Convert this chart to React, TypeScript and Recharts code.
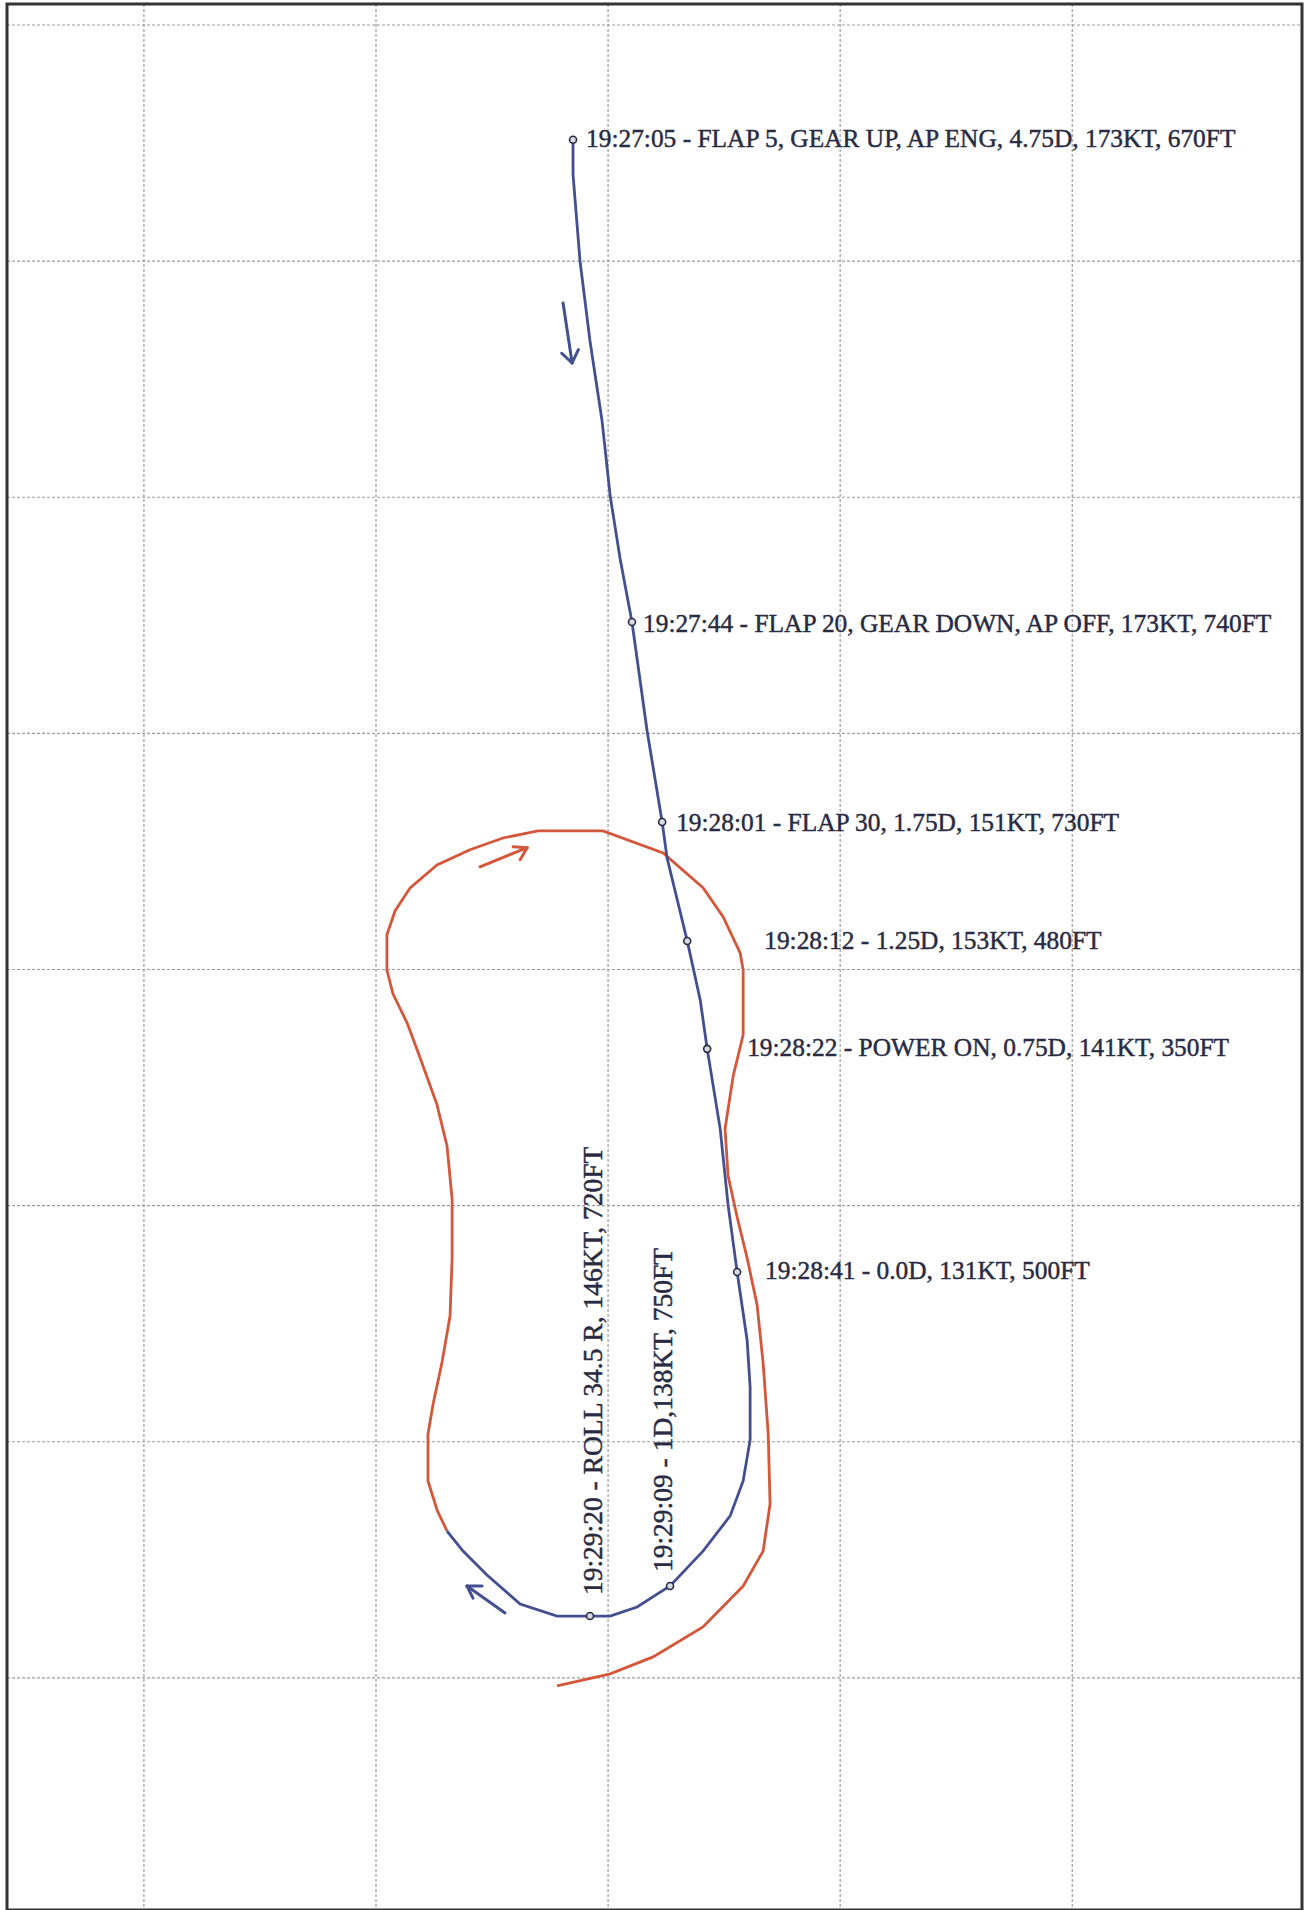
import {
  ComposedChart,
  Line,
  Scatter,
  XAxis,
  YAxis,
  CartesianGrid,
  ReferenceLine,
  ReferenceArea,
} from 'recharts';

// track positions in grid units (x east, y north)
const blueTrack: [number, number][] = [
  [1.849, 7.514], [1.849, 7.366], [1.879, 7.001], [1.922, 6.662], [1.974, 6.324],
  [2.009, 6.006], [2.052, 5.739], [2.103, 5.472], [2.168, 5.011], [2.233, 4.625],
  [2.254, 4.473], [2.341, 4.121], [2.397, 3.871], [2.427, 3.664], [2.483, 3.325],
  [2.517, 3.003], [2.556, 2.719], [2.599, 2.431], [2.612, 2.232], [2.612, 2.008],
  [2.582, 1.834], [2.526, 1.686], [2.409, 1.537], [2.267, 1.389], [2.125, 1.3],
  [2.009, 1.262], [1.922, 1.262], [1.78, 1.262], [1.621, 1.313], [1.478, 1.436],
  [1.375, 1.537], [1.306, 1.622],
];

const redTrack: [number, number][] = [
  [1.306, 1.622], [1.263, 1.711], [1.224, 1.834], [1.224, 2.033], [1.246, 2.16],
  [1.284, 2.334], [1.319, 2.533], [1.328, 2.779], [1.328, 3.028], [1.306, 3.253],
  [1.263, 3.427], [1.19, 3.626], [1.134, 3.774], [1.073, 3.897], [1.047, 3.998],
  [1.047, 4.147], [1.082, 4.248], [1.147, 4.346], [1.263, 4.443], [1.405, 4.507],
  [1.547, 4.557], [1.698, 4.587], [1.978, 4.587], [2.237, 4.494], [2.409, 4.346],
  [2.496, 4.223], [2.569, 4.07], [2.582, 3.998], [2.582, 3.723], [2.539, 3.549],
  [2.504, 3.325], [2.517, 3.126], [2.556, 2.952], [2.599, 2.779], [2.642, 2.579],
  [2.668, 2.334], [2.69, 2.033], [2.698, 1.737], [2.668, 1.537], [2.582, 1.389],
  [2.409, 1.216], [2.194, 1.089], [2.009, 1.017], [1.78, 0.966],
];

// event markers: index into blueTrack + annotation
const markerLabels = [
  { at: 0, text: '19:27:05 - FLAP 5, GEAR UP, AP ENG, 4.75D, 173KT, 670FT' },
  { at: 7, text: '19:27:44 - FLAP 20, GEAR DOWN, AP OFF, 173KT, 740FT' },
  { at: 9, text: '19:28:01 - FLAP 30, 1.75D, 151KT, 730FT' },
  { at: 11, text: '19:28:12 - 1.25D, 153KT, 480FT' },
  { at: 13, text: '19:28:22 - POWER ON, 0.75D, 141KT, 350FT' },
  { at: 16, text: '19:28:41 - 0.0D, 131KT, 500FT' },
  { at: 23, text: '19:29:09 - 1D,138KT, 750FT' },
  { at: 26, text: '19:29:20 - ROLL 34.5 R, 146KT, 720FT' },
];

// direction arrows: [tail, tip, wing1, wing2]
const blueArrows: [number, number][][] = [
  [[1.806, 6.823], [1.845, 6.569], [1.8, 6.61], [1.872, 6.625]],
  [[1.556, 1.275], [1.392, 1.389], [1.457, 1.389], [1.418, 1.338]],
];
const redArrows: [number, number][][] = [
  [[1.448, 4.435], [1.651, 4.516], [1.591, 4.52], [1.621, 4.465]],
];

const xTicks = [0, 1, 2, 3, 4];
const yTicks = [1, 2, 3, 4, 5, 6, 7, 8];

const X_DOMAIN: [number, number] = [-0.59, 4.99];
const Y_DOMAIN: [number, number] = [0.017, 8.089];

const BLUE = '#434f8e';
const RED = '#d4573b';
const INK = '#282b42';

// label placement relative to marker (px)
const labelLayout: Record<number, { dx: number; dy: number; vertical?: boolean }> = {
  0: { dx: 13, dy: -2 },
  7: { dx: 11, dy: 1 },
  9: { dx: 14, dy: 0 },
  11: { dx: 77, dy: -1 },
  13: { dx: 40, dy: -2 },
  16: { dx: 28, dy: -2 },
  23: { dx: -8, dy: -14, vertical: true },
  26: { dx: 3, dy: -21, vertical: true },
};

const blueData = blueTrack.map(([x, y]) => ({ x, y }));
const redData = redTrack.map(([x, y]) => ({ x, y }));
const markerData = markerLabels.map((m) => ({
  x: blueTrack[m.at][0],
  y: blueTrack[m.at][1],
  at: m.at,
  text: m.text,
}));

function MarkerShape(props: any) {
  const { cx, cy, payload } = props;
  if (cx == null || cy == null) return <g />;
  const lay = labelLayout[payload.at] || { dx: 12, dy: 0 };
  const tx = cx + lay.dx;
  const ty = cy + lay.dy;
  return (
    <g>
      <circle cx={cx} cy={cy} r={3.5} fill="#d8d9e2" stroke={INK} strokeWidth={1.6} />
      <text
        x={tx}
        y={ty}
        dominantBaseline="central"
        fontFamily="'Liberation Serif', 'Times New Roman', serif"
        fontSize={lay.vertical ? 27.5 : 25.4}
        fill={INK}
        stroke={INK}
        strokeWidth={0.45}
        transform={lay.vertical ? `rotate(-90 ${tx} ${ty})` : undefined}
      >
        {payload.text}
      </text>
    </g>
  );
}

function arrowLines(arrows: [number, number][][], color: string, prefix: string) {
  const out: any[] = [];
  arrows.forEach((a, i) => {
    const [tail, tip, w1, w2] = a;
    [[tail, tip], [w1, tip], [w2, tip]].forEach((seg, j) => {
      out.push(
        <ReferenceLine
          key={`${prefix}-${i}-${j}`}
          segment={[
            { x: seg[0][0], y: seg[0][1] },
            { x: seg[1][0], y: seg[1][1] },
          ]}
          stroke={color}
          strokeWidth={3}
          strokeLinecap="round"
          ifOverflow="visible"
        />
      );
    });
  });
  return out;
}

export default function App() {
  return (
    <div style={{ position: 'absolute', left: 0, top: 0, width: 1307, height: 1910, background: '#fff' }}>
      <ComposedChart
        width={1307}
        height={1910}
        margin={{ top: 4, right: 5, bottom: 0, left: 7 }}
      >
        <CartesianGrid stroke="#9c9c9c" strokeDasharray="3 2" strokeWidth={1.2} />
        <XAxis
          type="number"
          dataKey="x"
          domain={X_DOMAIN}
          ticks={xTicks}
          allowDataOverflow
          hide
        />
        <YAxis
          type="number"
          dataKey="y"
          domain={Y_DOMAIN}
          ticks={yTicks}
          allowDataOverflow
          hide
        />
        <ReferenceArea
          x1={X_DOMAIN[0]}
          x2={X_DOMAIN[1]}
          y1={Y_DOMAIN[0]}
          y2={Y_DOMAIN[1]}
          fill="none"
          stroke="#333"
          strokeWidth={3}
          ifOverflow="visible"
        />
        <Line
          data={redData}
          dataKey="y"
          type="linear"
          stroke={RED}
          strokeWidth={2.8}
          dot={false}
          activeDot={false}
          isAnimationActive={false}
        />
        <Line
          data={blueData}
          dataKey="y"
          type="linear"
          stroke={BLUE}
          strokeWidth={2.8}
          dot={false}
          activeDot={false}
          isAnimationActive={false}
        />
        {arrowLines(blueArrows, BLUE, 'ba')}
        {arrowLines(redArrows, RED, 'ra')}
        <Scatter
          data={markerData}
          dataKey="y"
          shape={MarkerShape}
          isAnimationActive={false}
        />
      </ComposedChart>
    </div>
  );
}
